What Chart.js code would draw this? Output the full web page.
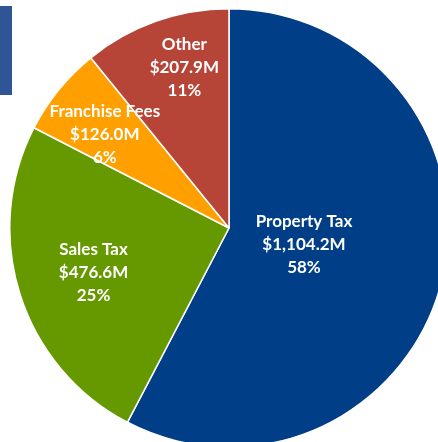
<!DOCTYPE html>
<html>
<head>
<meta charset="utf-8">
<script src="https://cdn.jsdelivr.net/npm/chart.js@4/dist/chart.umd.min.js"></script>
<style>
    html, body { margin: 0; padding: 0; width: 438px; height: 442px; overflow: hidden; background: #fff; }
    #barra { position: absolute; left: 0; top: 6px; width: 12px; height: 89px; background: #2f5597; }
    #localGrafico { position: absolute; left: 9px; top: 8px; width: 440px; height: 440px; }
</style>
</head>
<body>
<div id="barra"></div>
<div id="localGrafico"><canvas id="grafico"></canvas></div>
<script>
// dados do gráfico
const categorias = ['Property Tax', 'Sales Tax', 'Franchise Fees', 'Other'];
const valores = [1104.2, 476.6, 126.0, 207.9];
const rotulosValor = ['$1,104.2M', '$476.6M', '$126.0M', '$207.9M'];
const rotulosPercentual = ['58%', '25%', '6%', '11%'];
const cores = ['#003f87', '#669900', '#ffa000', '#b64537'];

// posição dos rótulos (fração do raio e ajuste de ângulo em graus)
const fracaoRaio = [0.35, 0.65, 0.71, 0.76];
const ajusteAngulo = [-1.5, -0.5, -2, 4];

const pluginRotulos = {
    id: 'rotulos',
    afterDatasetsDraw(chart) {
        const ctx = chart.ctx;
        const meta = chart.getDatasetMeta(0);
        ctx.save();
        ctx.fillStyle = '#ffffff';
        ctx.font = 'bold 17px Lato';
        ctx.textAlign = 'center';
        ctx.textBaseline = 'middle';
        meta.data.forEach((arco, i) => {
            const p = arco.getProps(['x', 'y', 'startAngle', 'endAngle', 'outerRadius'], true);
            const meio = (p.startAngle + p.endAngle) / 2 + ajusteAngulo[i] * Math.PI / 180;
            const r = p.outerRadius * fracaoRaio[i];
            const cx = p.x + Math.cos(meio) * r;
            const cy = p.y + Math.sin(meio) * r;
            const linhas = [categorias[i], rotulosValor[i], rotulosPercentual[i]];
            linhas.forEach((t, j) => ctx.fillText(t, cx, cy + (j - 1) * 23));
        });
        ctx.restore();
    }
};

new Chart(document.getElementById('grafico'), {
    type: 'pie',
    data: {
        labels: categorias,
        datasets: [{
            data: valores,
            backgroundColor: cores,
            borderColor: '#ffffff',
            borderWidth: 1.5
        }]
    },
    options: {
        responsive: true,
        maintainAspectRatio: false,
        animation: false,
        layout: { padding: 0 },
        plugins: {
            legend: { display: false },
            tooltip: { enabled: false }
        }
    },
    plugins: [pluginRotulos]
});
</script>
</body>
</html>
